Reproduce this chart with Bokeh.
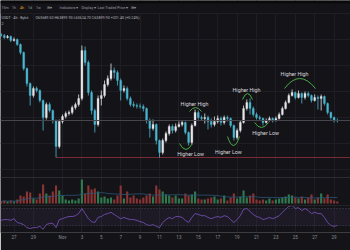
import numpy as np
import pandas as pd
from bokeh.plotting import figure
from bokeh.models import Range1d, FixedTicker, Span, BoxAnnotation, Label, ColumnDataSource
from bokeh.embed import file_html
from bokeh.resources import INLINE
from bokeh.core.properties import value

# ---------------- data ----------------
first_candle = "2024-10-25 16:00"
month_start = "2024-11-01"
first_open = 69060
closes = [69000, 68880, 68940, 68700, 68760, 68460, 67980, 67020, 66120, 65400,
          65820, 65700, 65100, 64080, 64860, 64500, 63900, 62340, 63840, 64140,
          64320, 64380, 64680, 64860, 65220, 68100, 67380, 65580, 64500, 63660,
          65220, 65400, 66060, 66420, 66900, 66780, 66300, 65700, 65820, 65220,
          64860, 64800, 64760, 64740, 64620, 63900, 63420, 63660, 62700, 61980,
          62700, 63120, 63540, 63300, 63540, 63660, 63780, 63180, 62580, 63600,
          64380, 64080, 64020, 64080, 63840, 63660, 63840, 64020, 63780, 64080,
          64020, 63600, 62880, 63300, 63780, 64620, 64980, 64620, 64260, 64080,
          64020, 63780, 63900, 64020, 63900, 64020, 64260, 64620, 64980, 65400,
          65580, 65280, 65520, 65280, 65520, 65400, 65100, 65280, 65220, 65340,
          64920, 64380, 64080, 63900, 63890]
highs = [69150, 69090, 69030, 69000, 68880, 68820, 68520, 68040, 67080, 66180,
         65940, 65940, 65760, 65160, 64980, 64980, 64560, 63960, 63960, 64260,
         64440, 64500, 64800, 64980, 65460, 68400, 68340, 67500, 65700, 64620,
         65400, 65700, 66300, 66600, 67320, 67080, 66900, 66420, 66000, 65940,
         65340, 65040, 64920, 64920, 64860, 64680, 64020, 63960, 63720, 62760,
         62820, 63240, 63660, 63660, 63720, 63840, 63900, 63840, 63240, 63720,
         64560, 64500, 64200, 64320, 64200, 64020, 64140, 64200, 64140, 64200,
         64200, 64080, 63660, 63420, 63900, 64800, 65160, 65220, 64740, 64380,
         64200, 64080, 64020, 64140, 64080, 64140, 64380, 64740, 65100, 65520,
         65760, 65640, 65700, 65580, 65640, 65640, 65460, 65460, 65400, 65460,
         65400, 64980, 64440, 64140, 64020]
lows = [68920, 68800, 68820, 68600, 68640, 68380, 67860, 66900, 65940, 64800,
        65280, 65580, 64980, 63300, 63960, 64380, 63720, 61680, 62220, 63720,
        64020, 64200, 64260, 64560, 64740, 65100, 67200, 65400, 64260, 63180,
        63540, 64800, 65280, 65940, 66300, 66420, 66000, 65100, 65580, 65100,
        64740, 64680, 64620, 64620, 64440, 63720, 62880, 63300, 62460, 61680,
        61860, 62580, 63000, 63120, 63180, 63480, 63540, 63060, 62400, 62460,
        63540, 63960, 63900, 63720, 63360, 63480, 63540, 63720, 63600, 63660,
        63840, 63480, 62700, 62760, 63180, 63720, 64500, 64260, 64140, 63960,
        63900, 63600, 63720, 63840, 63780, 63840, 63960, 64200, 64560, 64920,
        65340, 65160, 65220, 64920, 65160, 65280, 64980, 65040, 64560, 64500,
        64800, 64260, 63960, 63780, 63780]
volumes = [200, 300, 200, 300, 200, 400, 800, 700, 1200, 1100,
           500, 400, 1000, 1900, 1000, 800, 1200, 1800, 1300, 800,
           400, 300, 400, 300, 500, 2400, 1000, 1800, 1400, 1500,
           1200, 600, 700, 500, 600, 400, 800, 1800, 500, 1200,
           600, 800, 500, 400, 600, 800, 1000, 700, 1800, 1400,
           1200, 900, 800, 600, 800, 500, 500, 1000, 800, 900,
           1200, 500, 400, 400, 500, 600, 700, 400, 500, 800,
           300, 600, 1000, 500, 700, 1300, 600, 800, 1000, 400,
           300, 400, 300, 500, 300, 400, 500, 600, 700, 900,
           800, 600, 500, 700, 400, 600, 900, 400, 600, 1000,
           500, 900, 400, 300, 200]
rsi = [42, 44, 44, 42, 46, 37, 35, 32, 25, 23,
       25, 25, 28, 21, 32, 35, 35, 25, 44, 46,
       49, 51, 51, 53, 58, 70, 58, 46, 39, 37,
       49, 51, 56, 58, 61, 56, 51, 46, 49, 46,
       44, 44, 42, 39, 37, 32, 30, 32, 28, 25,
       37, 44, 49, 46, 51, 51, 49, 42, 37, 49,
       58, 56, 53, 53, 49, 46, 49, 51, 49, 53,
       51, 44, 37, 44, 53, 68, 70, 63, 56, 51,
       49, 44, 46, 49, 46, 49, 53, 61, 68, 75,
       77, 70, 72, 65, 70, 65, 58, 61, 58, 58,
       49, 37, 30, 28, 30]
level_price = 63900
tick_days = [-5, -3, 0, 2, 4, 6, 8, 10, 12, 14, 16, 18, 20, 22, 24, 26, 28]
tick_labels = ["27", "29", "Nov", "3", "5", "7", "9", "11", "13", "15",
               "17", "19", "21", "23", "25", "27", "29"]

# annotations (day offset from Nov 1, price)
ann_text = ["Higher Low", "Higher High", "Higher Low", "Higher High", "Higher Low", "Higher High"]
ann_x = [13.20, 13.61, 17.11, 18.97, 20.93, 23.92]
ann_y = [61920, 64920, 62040, 65760, 63180, 66720]
arc_x0 = [12.06, 13.09, 17.01, 18.56, 19.79, 22.89]
arc_x1 = [13.40, 14.33, 18.25, 19.59, 21.24, 26.08]
arc_cx = [12.73, 13.71, 17.63, 19.07, 20.52, 24.43]
arc_y = [62520, 64440, 62940, 65160, 63780, 65820]
arc_cy = [61800, 64920, 61860, 65880, 63180, 67020]

# ---------------- styling ----------------
BG = "#141418"
UP = "#e6e6ea"
DOWN = "#4cb6d0"
VUP = "#2f7a50"
VDN = "#8a3434"
GREEN = "#4aa944"
FONT = "Roboto"

dates = pd.date_range(first_candle, periods=len(closes), freq="8h")
t = ((dates - pd.Timestamp(month_start)) / pd.Timedelta(days=1)).to_numpy()
opens = [first_open] + closes[:-1]
o = np.array(opens, dtype=float)
c = np.array(closes, dtype=float)
is_up = c >= o
ma = pd.Series(volumes, dtype=float).rolling(20, min_periods=1).mean().to_numpy()

src = ColumnDataSource(dict(
    t=t, h=highs, l=lows, top=np.maximum(o, c), bot=np.minimum(o, c),
    color=[UP if u else DOWN for u in is_up],
    vcol=[VUP if u else VDN for u in is_up],
    vol=volumes, ma=ma, rsi=rsi))

X0, X1 = -6.392, 29.691
FRAME_H = 232

p = figure(width=350, height=250, output_backend="svg", toolbar_location=None,
           x_range=Range1d(X0, X1), y_range=Range1d(57180, 71100),
           y_axis_location=None,
           min_border_left=0, min_border_right=0, min_border_top=0, min_border_bottom=18,
           background_fill_color=BG, border_fill_color=BG, outline_line_color=None)
p.extra_y_ranges = {"vol": Range1d(-2900, 20300), "rsi": Range1d(13.5, 559.4)}

# grid
p.xgrid.ticker = FixedTicker(ticks=tick_days)
p.xgrid.grid_line_color = "#1e1e24"
p.ygrid.ticker = FixedTicker(ticks=[70320, 68760, 67200, 65640, 64080, 62520, 60960])
p.ygrid.grid_line_color = "#1e1e24"

# x axis
ax = p.xaxis[0]
ax.ticker = FixedTicker(ticks=tick_days)
ax.major_label_overrides = {d: lab for d, lab in zip(tick_days, tick_labels)}
ax.axis_line_color = None
ax.major_tick_line_color = None
ax.minor_tick_line_color = None
ax.major_tick_out = 0
ax.major_tick_in = 0
ax.minor_tick_out = 0
ax.minor_tick_in = 0
ax.major_label_standoff = 2
ax.major_label_text_color = "#8b8e96"
ax.major_label_text_font_size = "4.5px"
ax.major_label_text_font = FONT

# top toolbar bands
p.add_layout(BoxAnnotation(bottom=FRAME_H - 12.5, bottom_units="screen", fill_color=BG,
                           fill_alpha=1, line_color=None))
p.add_layout(BoxAnnotation(bottom=FRAME_H - 3, bottom_units="screen", fill_color="#0a0a0c",
                           fill_alpha=1, line_color=None))

# pane separators
for yy, col in [(177, "#2c2c32"), (205, "#232328"), (232, "#2c2c32")]:
    p.add_layout(Span(location=FRAME_H - yy, location_units="screen", dimension="width",
                      line_color=col, line_width=1))

# price levels
p.add_layout(Span(location=level_price, dimension="width", line_color="#46464c", line_width=1))
imin = int(np.argmin(lows))
p.segment(x0=[t[imin]], y0=[lows[imin]], x1=[X1], y1=[lows[imin]], line_color="#7a2a36", line_width=1)

# candles
p.segment(x0="t", y0="h", x1="t", y1="l", line_color="color", line_width=0.8, source=src)
p.vbar(x="t", bottom="bot", top="top", width=0.2, fill_color="color", line_color="color",
       line_width=0.3, source=src)

# volume
p.vbar(x="t", bottom=0, top="vol", width=0.22, fill_color="vcol", line_color=None,
       y_range_name="vol", source=src)
p.line(x="t", y="ma", line_color="#2b5577", line_width=0.8, y_range_name="vol", source=src)

# RSI
p.add_layout(BoxAnnotation(bottom=30, top=70, y_range_name="rsi", fill_color="#7e57c2",
                           fill_alpha=0.09, line_color=None))
for lv in (70, 30):
    p.add_layout(Span(location=lv, dimension="width", y_range_name="rsi",
                      line_color="#55506a", line_dash="1 2", line_width=0.8))
p.line(x="t", y="rsi", line_color="#7e57c2", line_width=0.8, y_range_name="rsi", source=src)

# annotations
p.quadratic(x0=arc_x0, y0=arc_y, x1=arc_x1, y1=arc_y, cx=arc_cx, cy=arc_cy,
            line_color=GREEN, line_width=1)
p.text(x=ann_x, y=ann_y, text=ann_text, text_align="center", text_baseline="middle",
       text_font=value(FONT), text_font_size="5.3px", text_color="#d8d8dc")

# header texts
def lab(txt, x, y, size="3.6px", color="#9a9aa2", align="left"):
    p.add_layout(Label(x=x, y=FRAME_H - y, x_units="screen", y_units="screen", text=txt,
                       text_font=FONT, text_font_size=size, text_color=color,
                       text_align=align, text_baseline="middle"))

lab("15m", 1, 7)
lab("1h", 11.5, 7)
lab("4h", 19.5, 7, color="#f0a020")
lab("1d", 27.5, 7)
lab("1w", 35.5, 7)
lab("⊞ ▾", 46, 7)
lab("Indicators ▾", 59, 7)
lab("Display ▾", 81, 7)
lab("Last Traded Price ▾", 97, 7)
lab("⊞ ▾", 130, 7)
lab("USDT · 4h · Bybit", 1, 17, size="3.7px", color="#b4b4bc")
lab("O63689.50  H63899.90  L63624.70  C63899.90  +201.40 (+0.24%)", 35, 17,
    size="3.7px", color="#b4b4bc")
lab("2", 1, 23, size="3.7px", color="#b4b4bc")
lab("Date Range ▾", 1, 245, size="3.8px", color="#8b8e96")
lab("08:05:52 (UTC)", 311, 243, size="3.8px", color="#8b8e96")
lab("%", 344, 243, size="3.8px", color="#8b8e96")

open("out.html", "w").write(file_html(p, INLINE))
